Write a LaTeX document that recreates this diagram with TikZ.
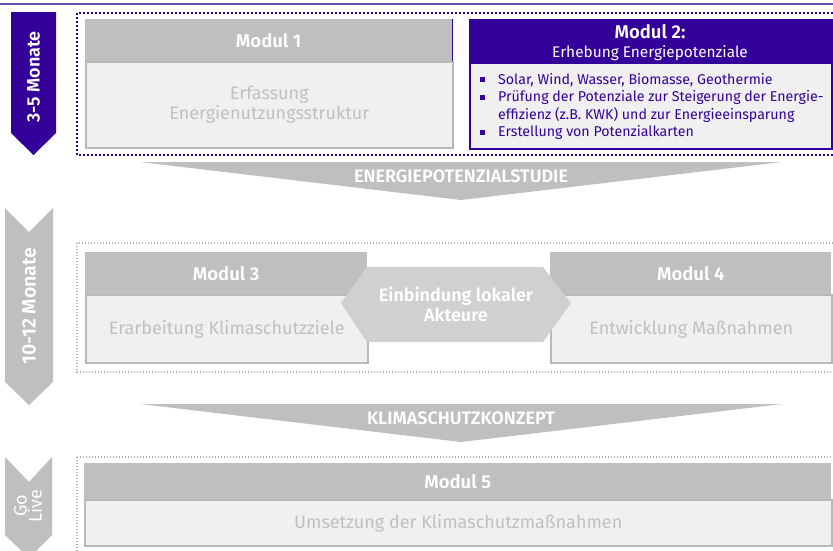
\documentclass[tikz,border=0pt]{standalone}
\usepackage{fontspec}
\setmainfont{Fira Sans}[BoldFont={Fira Sans SemiBold}]
\usetikzlibrary{calc}
\usetikzlibrary{positioning}

\definecolor{lila}{HTML}{330099}
\definecolor{linie}{HTML}{6A50B4}
\definecolor{grau}{HTML}{BFBFBF}
\definecolor{hell}{HTML}{F0F0F0}
\definecolor{rand}{HTML}{B8B8B8}
\definecolor{schrift}{HTML}{C0C0C0}
\definecolor{sechseck}{HTML}{D0D0D0}
\definecolor{punkte}{HTML}{B0B0B0}

\newcommand{\viereck}{\raisebox{0.17em}{\rule{5pt}{5pt}}}

\begin{document}
\begin{tikzpicture}[x=1pt, y=-1pt,
    kopf/.style={rectangle, fill=grau, text=white, inner sep=0pt, anchor=north west,
        font=\bfseries\fontsize{18.5}{20}\selectfont},
    rumpf/.style={rectangle, fill=hell, draw=rand, line width=1.5pt, text=schrift, inner sep=0pt,
        anchor=north west, align=center, font=\fontsize{18}{20}\selectfont},
    rahmen/.style={draw=punkte, line width=1.2pt, dash pattern=on 1.2pt off 1.8pt},
    dauer/.style={rotate=90, text=white, font=\bfseries\fontsize{18}{19}\selectfont},
    banntext/.style={text=white, font=\bfseries\fontsize{18}{20}\selectfont}]
        \clip (0,0) rectangle (833,550);
        \fill[white] (0,0) rectangle (833,550);
        \draw[linie, line width=1.5pt] (0,4) -- (833,4);

        % Phase 1
        \fill[lila] (11,12) -- (56,12) -- (56,133) -- (33.5,155) -- (11,133) -- cycle;
        \node[dauer] (dauer1) at (33.5,77) {3-5 Monate};
        \draw[lila, line width=2pt, dotted] (77,13) rectangle (845,155);

        \node[kopf, minimum width=367pt, minimum height=42pt] (m1kopf) at (85,19) {Modul 1};
        \node[rumpf, minimum width=367pt, minimum height=86pt] (m1rumpf) at (m1kopf.south west)
            {Erfassung\\Energienutzungsstruktur};
        \draw[lila, line width=1pt] (m1kopf.north east) -- (m1kopf.south east);

        \node[rectangle, draw=lila, fill=hell, line width=1.5pt, anchor=north west,
            minimum width=362pt, minimum height=129pt] (m2rumpf) at (469,19) {};
        \node[rectangle, fill=lila, anchor=north west, minimum width=362pt, minimum height=45pt]
            (m2kopf) at (469,19) {};
        \node[text=white, font=\bfseries\fontsize{18.5}{20}\selectfont, anchor=base] (m2titel)
            at (650,38) {Modul 2:};
        \node[text=white, font=\fontsize{15.4}{17}\selectfont, anchor=base] (m2untertitel)
            at (650,57) {Erhebung Energiepotenziale};
        \node[text=lila, anchor=north west, inner sep=0pt, font=\fontsize{14.2}{17.5}\selectfont]
            (m2liste) at (480,72) {%
            \begin{tabular}{@{}l@{\hspace{13pt}}l@{}}
                \viereck & Solar, Wind, Wasser, Biomasse, Geothermie\\
                \viereck & Prüfung der Potenziale zur Steigerung der Energie-\\
                         & effizienz (z.B. KWK) und zur Energieeinsparung\\
                \viereck & Erstellung von Potenzialkarten
            \end{tabular}};

        \fill[grau] (140,162) -- (782,162) -- (461,200) -- cycle;
        \node[banntext] (studie) at (461,176) {ENERGIEPOTENZIALSTUDIE};

        % Phase 2
        \fill[grau] (5,208) -- (29,232) -- (53,208) -- (53,382) -- (29,405) -- (5,382) -- cycle;
        \node[dauer, font=\bfseries\fontsize{19.5}{20}\selectfont] (dauer2) at (29,306) {10-12 Monate};
        \draw[rahmen] (77,243) rectangle (845,372);

        \node[kopf, minimum width=282pt, minimum height=42pt] (m3kopf) at (85,252) {Modul 3};
        \node[rumpf, minimum width=282pt, minimum height=68pt] (m3rumpf) at (m3kopf.south west)
            {Erarbeitung Klimaschutzziele};
        \node[kopf, minimum width=281pt, minimum height=42pt] (m4kopf) at (550,252) {Modul 4};
        \node[rumpf, minimum width=281pt, minimum height=68pt] (m4rumpf) at (m4kopf.south west)
            {Entwicklung Maßnahmen};

        \fill[sechseck] (341,303) -- (367,267) -- (543,267) -- (571,303) -- (543,342) -- (367,342) -- cycle;
        \node[banntext, align=center, font=\bfseries\fontsize{18}{20}\selectfont] (akteure) at (456,304)
            {Einbindung lokaler\\Akteure};

        \fill[grau] (140,404) -- (782,404) -- (461,442) -- cycle;
        \node[banntext] (konzept) at (461,418) {KLIMASCHUTZKONZEPT};

        % Phase 3
        \fill[grau] (5,457) -- (29,482) -- (52,457) -- (52,535) -- (29,558) -- (5,535) -- cycle;
        \node[dauer, align=center, font=\fontsize{18}{15}\selectfont] (dauer3) at (28,506) {Go\\Live};
        \draw[rahmen] (77,457) rectangle (845,570);

        \node[kopf, minimum width=747pt, minimum height=36pt] (m5kopf) at (84,463) {Modul 5};
        \node[rumpf, minimum width=747pt, minimum height=46pt] (m5rumpf) at (m5kopf.south west)
            {Umsetzung der Klimaschutzmaßnahmen};
\end{tikzpicture}
\end{document}
